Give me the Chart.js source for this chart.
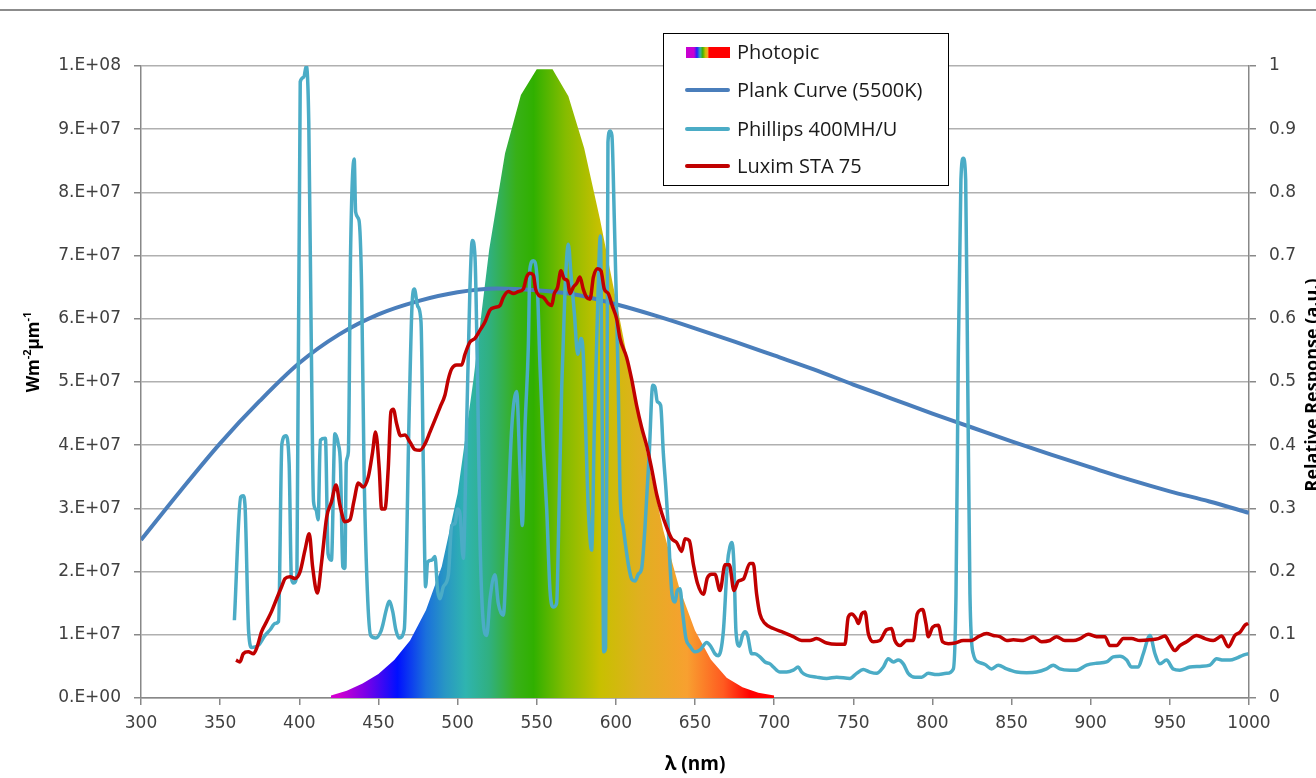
<!DOCTYPE html>
<html>
<head>
<meta charset="utf-8">
<script src="https://cdn.jsdelivr.net/npm/chart.js@4/dist/chart.umd.min.js"></script>
<style>
  body { margin: 0; background: #fff; }
  #wrap { width: 1316px; height: 778px; }
</style>
</head>
<body>
<div id="wrap"><canvas id="spectrum-chart" width="1316" height="778"></canvas></div>
<script>
// x ticks (nm) and left / right tick ranges
const xMin = 300, xMax = 1000, xStep = 50;
const leftMax = 1e8, leftStep = 1e7;
const rightMax = 1, rightStep = 0.1;

// Photopic response (right axis)
const photopicNm = [420,430,440,450,460,470,480,490,500,510,520,530,540,550,560,570,580,590,600,610,620,630,640,650,660,670,680,690,700];
const photopicVal = [0.004,0.0116,0.023,0.038,0.06,0.091,0.139,0.208,0.323,0.503,0.71,0.862,0.954,0.995,0.995,0.952,0.87,0.757,0.631,0.503,0.381,0.265,0.175,0.107,0.061,0.032,0.017,0.0082,0.0041];

// Plank curve, values in units of 1e7
const plankNm = [300,325,350,375,400,425,450,475,500,525,550,575,600,625,650,675,700,725,750,775,800,825,850,875,900,925,950,975,1000];
const plankVal = [2.50,3.28,4.03,4.70,5.30,5.75,6.07,6.28,6.42,6.48,6.45,6.38,6.23,6.05,5.85,5.64,5.42,5.20,4.96,4.73,4.50,4.28,4.06,3.85,3.65,3.45,3.27,3.11,2.93];

// Phillips 400MH/U, units of 1e7
const phillipsNm = [359,363,364.5,365.7,368,370,374,378.4,381.6,384.7,386.9,389,391.5,393.6,395,396.4,398.5,400.6,402.8,404.4,406,407.6,409,410.6,411.9,413.3,416.5,418.2,420.3,422.5,424.6,426,427.5,428.8,429.7,431,432.4,434.7,435.6,437.7,439.4,440.9,443,445.1,448.3,451.5,453,454.7,456.8,459,461,463.1,466.3,469.5,471.2,472.7,474.8,476.9,478.4,479.8,481.1,483.6,485.7,487.4,488.9,491,494.2,496.3,498.4,500,501.5,503.6,505.7,507.8,509.3,511,512.7,514.2,516.3,518.4,520.5,523.6,525.7,528.9,531,534.2,537.3,539.4,540.9,542.6,544.7,545.7,547.9,550,552.1,554.2,556.3,558.4,560.5,562.6,564.1,565.8,567.9,570,571.6,573.8,575.9,578,579.4,580.9,582.6,584.7,586.4,588.5,590.2,591.4,592.3,593.5,594.4,595,596.3,597.5,599,600.3,601.5,602.6,604.7,607.9,610,612.1,614.2,616.3,618.4,621.1,623.3,624.7,626.2,628.3,630,631.7,633.1,634.2,635.5,637.4,638.8,640.5,642.2,644.3,646.8,650,653.2,657.4,659.9,662.6,664.7,667.9,670.4,672.1,673.4,674.6,675.9,678,680.1,681.6,683.1,685.8,687.9,691,694.2,697.4,699.5,703.7,707.9,712.1,715.2,717.4,720.5,726.8,733.2,739.5,747.9,752.1,756.3,760.5,764.7,769,772.1,775.3,778.4,781.6,784.7,789,793.2,797.4,802.6,809,813.2,814.9,816.3,818,819.5,821,822.2,823.7,825.8,829,833.2,837.4,841.6,846.9,853.2,859.5,865.8,872.1,876.3,880.5,886.9,891.1,897.4,903.7,910,914.2,918.5,922.7,925.8,930,933.2,937.4,940.6,943.7,947.9,952.1,956.3,962.7,969,975.3,979.5,983.7,988,992.1,996.4,999.5];
const phillipsVal = [1.23,3.18,3.2,3.05,1.05,0.8,0.83,0.99,1.08,1.18,1.21,4.02,4.15,3.7,1.9,1.82,1.95,9.75,9.82,10.0,9.1,5.56,3.11,2.98,2.82,4.08,4.11,2.28,2.18,4.18,4.02,3.7,2.08,2.05,3.73,3.89,7.05,8.53,7.69,7.56,6.47,3.63,1.7,0.99,0.95,1.05,1.18,1.37,1.53,1.37,1.08,0.95,1.08,4.6,6.2,6.47,6.2,5.95,3.63,1.76,2.15,2.18,2.24,1.7,1.57,1.76,1.95,2.73,2.76,2.99,2.92,2.21,4.27,6.47,7.24,6.98,4.92,2.47,1.18,0.99,1.57,1.95,1.5,1.31,2.34,4.27,4.85,3.63,2.73,4.27,5.56,6.79,6.92,6.72,5.24,3.95,2.99,1.7,1.44,1.5,2.99,4.92,6.47,7.18,6.72,6.08,5.44,5.69,5.44,4.27,2.99,2.34,4.27,6.2,7.31,4.27,0.73,0.79,4.27,8.79,8.97,8.9,7.6,6.3,5.0,3.28,2.7,2.11,1.88,1.85,1.96,2.05,2.7,3.87,4.95,4.92,4.69,4.63,3.87,3.28,2.7,2.11,1.64,1.52,1.7,1.73,1.35,0.94,0.82,0.73,0.76,0.88,0.82,0.7,0.67,1.05,2.11,2.4,2.46,2.11,1.05,0.82,1.0,1.05,1.0,0.7,0.7,0.65,0.57,0.54,0.49,0.41,0.41,0.44,0.49,0.41,0.36,0.33,0.31,0.33,0.31,0.39,0.45,0.41,0.39,0.49,0.62,0.57,0.6,0.54,0.39,0.33,0.33,0.39,0.37,0.39,0.46,1.65,5.3,8.2,8.54,8.2,5.3,1.65,0.7,0.57,0.53,0.46,0.52,0.46,0.41,0.4,0.41,0.46,0.52,0.46,0.44,0.44,0.52,0.55,0.57,0.65,0.66,0.6,0.49,0.49,0.7,0.99,0.7,0.54,0.6,0.46,0.44,0.49,0.5,0.52,0.62,0.6,0.6,0.63,0.68,0.7];

// Luxim STA 75, units of 1e7
const luximNm = [360,362.5,364.6,367.8,371,373.1,376.2,379.4,382.5,385.7,388.8,391,394.1,397.3,400.4,403.6,406.3,408.4,411.4,414.1,417.3,420.4,423.2,425.7,428.8,432,434.5,437.3,440.4,443.6,446.3,448.2,450.5,452,454.1,456.2,457.9,459.4,461.5,464,466.7,469.9,473.1,476.3,479.4,482.6,485.7,488.9,492,494.2,496.3,499.4,502.6,504.7,507.8,511,514.2,517.3,520.5,523.6,526.8,528.9,532.1,535.2,538.4,541.5,543.6,545.7,547.9,549.3,551.4,554.2,557.3,559.4,561.1,563.2,565.3,567.4,569.5,571,573.1,575.2,577.3,579.4,581.5,583.7,585.8,588.5,590.6,592.7,595.2,597.8,600.5,602.6,606.8,610,613.1,616.3,619.5,622.6,625.8,628.9,632.1,635.3,638.4,641.6,643.7,646.4,649,651.5,655.3,657.8,660.5,662.6,665.8,669,671.7,674.6,677.4,680.5,684.7,686.8,688.9,691,694.2,699.5,705.8,712.1,717.4,722.6,726.8,733.2,739.5,744.7,746.8,749,751.7,753.2,755.3,757.4,759.5,762.6,766.8,771,774.2,776.3,779.5,783.7,787.9,790.4,793.8,795.9,797.4,800.1,803.7,806.4,810,814.2,819.5,824.7,829,834.2,838.4,842.6,846.9,851.1,857.4,863.7,869,874.2,878.4,883.7,889,893.2,898.4,903.7,909,912.1,916.3,920.6,925.8,931.1,937.4,942.7,946.9,950,953.2,956.3,960.6,966.9,972.2,977.4,982.7,986.9,991.1,994.3,997.4,999.5];
const luximVal = [0.6,0.57,0.7,0.73,0.7,0.79,1.05,1.21,1.37,1.57,1.76,1.89,1.92,1.89,1.99,2.34,2.6,2.08,1.66,2.15,2.86,3.11,3.37,3.05,2.79,2.82,3.11,3.4,3.34,3.5,3.89,4.21,3.63,2.99,2.99,3.63,4.53,4.57,4.34,4.15,4.16,4.05,3.93,3.92,4.02,4.21,4.4,4.6,4.79,5.05,5.21,5.27,5.27,5.44,5.63,5.69,5.82,5.95,6.14,6.18,6.21,6.34,6.43,6.4,6.43,6.47,6.66,6.72,6.69,6.47,6.37,6.34,6.24,6.21,6.4,6.5,6.76,6.63,6.6,6.4,6.5,6.56,6.66,6.47,6.34,6.31,6.66,6.79,6.76,6.47,6.4,6.2,6.0,5.69,5.39,5.04,4.63,4.28,3.99,3.63,3.22,2.93,2.7,2.52,2.46,2.32,2.52,2.49,2.11,1.82,1.64,1.9,1.96,1.96,1.7,2.11,2.11,1.7,1.85,1.88,2.13,2.13,1.65,1.33,1.18,1.1,1.04,0.97,0.91,0.91,0.94,0.87,0.85,0.85,1.28,1.33,1.26,1.18,1.33,1.36,1.02,0.89,0.91,1.08,1.1,0.91,0.83,0.91,0.91,1.33,1.4,1.18,0.97,1.12,1.15,0.89,0.86,0.87,0.91,0.91,0.97,1.02,0.99,0.97,0.91,0.92,0.91,0.97,0.89,0.91,0.97,0.91,0.91,0.94,1.01,0.97,0.97,0.83,0.83,0.94,0.94,0.91,0.92,0.94,0.98,0.86,0.75,0.83,0.89,0.99,0.94,0.91,0.98,0.81,0.99,1.04,1.15,1.18];

const legendLabels = ["Photopic", "Plank Curve (5500K)", "Phillips 400MH/U", "Luxim STA 75"];

// colours
const plankColor = "#4a7ebb";
const phillipsColor = "#4bacc6";
const luximColor = "#c00000";
const spectrumStops = [
  [425, "#d000d0"], [442, "#7a00e8"], [462, "#0010ff"], [480, "#1a70dc"],
  [492, "#2896c4"], [505, "#2fb4b0"], [520, "#30b080"], [537, "#38b018"],
  [548, "#30b000"], [568, "#84bc00"], [590, "#c8c000"], [615, "#e0b020"],
  [645, "#f8a030"], [668, "#ff5a20"], [685, "#ff0000"]
];

const toPoints = (xs, ys, k) => xs.map((x, i) => ({ x: x, y: ys[i] * k }));

function spectrumFill(context) {
  const chart = context.chart;
  const area = chart.chartArea;
  if (!area) return "#30b000";
  const sx = chart.scales.x;
  const x0 = sx.getPixelForValue(400), x1 = sx.getPixelForValue(700);
  const g = chart.ctx.createLinearGradient(x0, 0, x1, 0);
  spectrumStops.forEach(s => g.addColorStop((s[0] - 400) / 300, s[1]));
  return g;
}

const tickFont = { family: "'DejaVu Sans'", size: 17 };
const tickColor = "#404040";

const extras = {
  id: "extras",
  afterDraw(chart) {
    const ctx = chart.ctx;
    ctx.save();
    // outer frame line at top
    ctx.strokeStyle = "#8c8c8c";
    ctx.lineWidth = 2;
    ctx.beginPath(); ctx.moveTo(0, 10); ctx.lineTo(1316, 10); ctx.stroke();

    // x axis title
    ctx.fillStyle = "#000";
    ctx.font = "bold 19px 'Open Sans'";
    ctx.textAlign = "center";
    ctx.textBaseline = "middle";
    ctx.fillText("λ (nm)", (chart.chartArea.left + chart.chartArea.right) / 2, 765);

    // left axis title with superscripts
    ctx.save();
    ctx.translate(34, 352);
    ctx.rotate(-Math.PI / 2);
    const parts = [["Wm", 17, 0], ["-2", 11, -6], ["µm", 17, 0], ["-1", 11, -6]];
    let total = 0;
    parts.forEach(p => { ctx.font = "bold " + p[1] + "px 'Open Sans'"; total += ctx.measureText(p[0]).width; });
    let px = -total / 2;
    ctx.textAlign = "left";
    parts.forEach(p => {
      ctx.font = "bold " + p[1] + "px 'Open Sans'";
      ctx.fillText(p[0], px, p[2]);
      px += ctx.measureText(p[0]).width;
    });
    ctx.restore();

    // right axis title, reading upward, clipped by canvas edge
    ctx.save();
    ctx.translate(1304, 385);
    ctx.rotate(-Math.PI / 2);
    ctx.font = "bold 18px 'Open Sans'";
    ctx.textAlign = "center";
    ctx.textBaseline = "top";
    ctx.fillText("Relative Response (a.u.)", 0, 0);
    ctx.restore();

    // legend box
    ctx.fillStyle = "#fff";
    ctx.fillRect(663.5, 33.5, 285, 152);
    ctx.strokeStyle = "#000";
    ctx.lineWidth = 1;
    ctx.strokeRect(663.5, 33.5, 285, 152);

    const rows = [52, 90, 129, 166];
    const sw = ctx.createLinearGradient(686, 0, 730, 0);
    [["#c800d0", 0], ["#c800d0", 0.18], ["#2020ff", 0.25], ["#30b0b0", 0.32],
     ["#40b000", 0.38], ["#c8c000", 0.44], ["#f8a030", 0.5], ["#ff0000", 0.52], ["#ff0000", 1]]
      .forEach(s => sw.addColorStop(s[1], s[0]));
    ctx.fillStyle = sw;
    ctx.fillRect(686, 47, 44, 11);

    ctx.lineCap = "round";
    ctx.lineWidth = 4;
    [plankColor, phillipsColor, luximColor].forEach((c, i) => {
      ctx.strokeStyle = c;
      ctx.beginPath(); ctx.moveTo(687, rows[i + 1]); ctx.lineTo(728, rows[i + 1]); ctx.stroke();
    });

    ctx.fillStyle = "#1a1a1a";
    ctx.font = "20px 'Open Sans'";
    ctx.textAlign = "left";
    ctx.textBaseline = "middle";
    legendLabels.forEach((t, i) => ctx.fillText(t, 737, rows[i] + 1));
    ctx.restore();
  }
};

new Chart(document.getElementById("spectrum-chart"), {
  type: "line",
  data: {
    datasets: [{
      label: legendLabels[3],
      data: toPoints(luximNm, luximVal, 1e7),
      yAxisID: "y",
      borderColor: luximColor,
      borderWidth: 3.5,
      pointRadius: 0,
      cubicInterpolationMode: "monotone",
      fill: false,
      order: 0
    }, {
      label: legendLabels[2],
      data: toPoints(phillipsNm, phillipsVal, 1e7),
      yAxisID: "y",
      borderColor: phillipsColor,
      borderWidth: 3.5,
      pointRadius: 0,
      cubicInterpolationMode: "monotone",
      fill: false,
      order: 1
    }, {
      label: legendLabels[1],
      data: toPoints(plankNm, plankVal, 1e7),
      yAxisID: "y",
      borderColor: plankColor,
      borderWidth: 4,
      pointRadius: 0,
      cubicInterpolationMode: "monotone",
      fill: false,
      order: 2
    }, {
      label: legendLabels[0],
      data: toPoints(photopicNm, photopicVal, 1),
      yAxisID: "y1",
      borderWidth: 0,
      borderColor: "rgba(0,0,0,0)",
      backgroundColor: spectrumFill,
      pointRadius: 0,
      tension: 0,
      fill: "origin",
      order: 3
    }]
  },
  options: {
    responsive: false,
    animation: false,
    events: [],
    layout: { padding: { top: 66, left: 0, right: 0, bottom: 0 } },
    plugins: {
      legend: { display: false },
      tooltip: { enabled: false }
    },
    scales: {
      x: {
        type: "linear",
        min: xMin, max: xMax,
        ticks: { stepSize: xStep, font: tickFont, color: tickColor, padding: 8, maxRotation: 0,
                 callback: v => String(v) },
        grid: { drawOnChartArea: false, drawTicks: true, tickLength: 7, color: "#888", lineWidth: 1.5 },
        border: { display: true, color: "#888", width: 1.5 },
        afterFit: s => { s.height = 80; }
      },
      y: {
        position: "left",
        min: 0, max: leftMax,
        ticks: {
          stepSize: leftStep, font: tickFont, color: tickColor, padding: 13,
          callback: v => {
            if (v === 0) return "0.E+00";
            const e = Math.floor(Math.log10(v) + 1e-9);
            const m = Math.round(v / Math.pow(10, e));
            return m + ".E+" + String(e).padStart(2, "0");
          }
        },
        grid: { color: "#b0b0b0", lineWidth: 1.5, tickLength: 7, tickColor: "#888" },
        border: { display: true, color: "#888", width: 1.5 },
        afterFit: s => { s.width = 141; }
      },
      y1: {
        position: "right",
        min: 0, max: rightMax,
        ticks: {
          stepSize: rightStep, font: tickFont, color: tickColor, padding: 13,
          callback: v => String(Math.round(v * 10) / 10)
        },
        grid: { drawOnChartArea: false, tickLength: 7, color: "#888", lineWidth: 1.5 },
        border: { display: true, color: "#888", width: 1.5 },
        afterFit: s => { s.width = 67; }
      }
    }
  },
  plugins: [extras]
});
</script>
</body>
</html>
